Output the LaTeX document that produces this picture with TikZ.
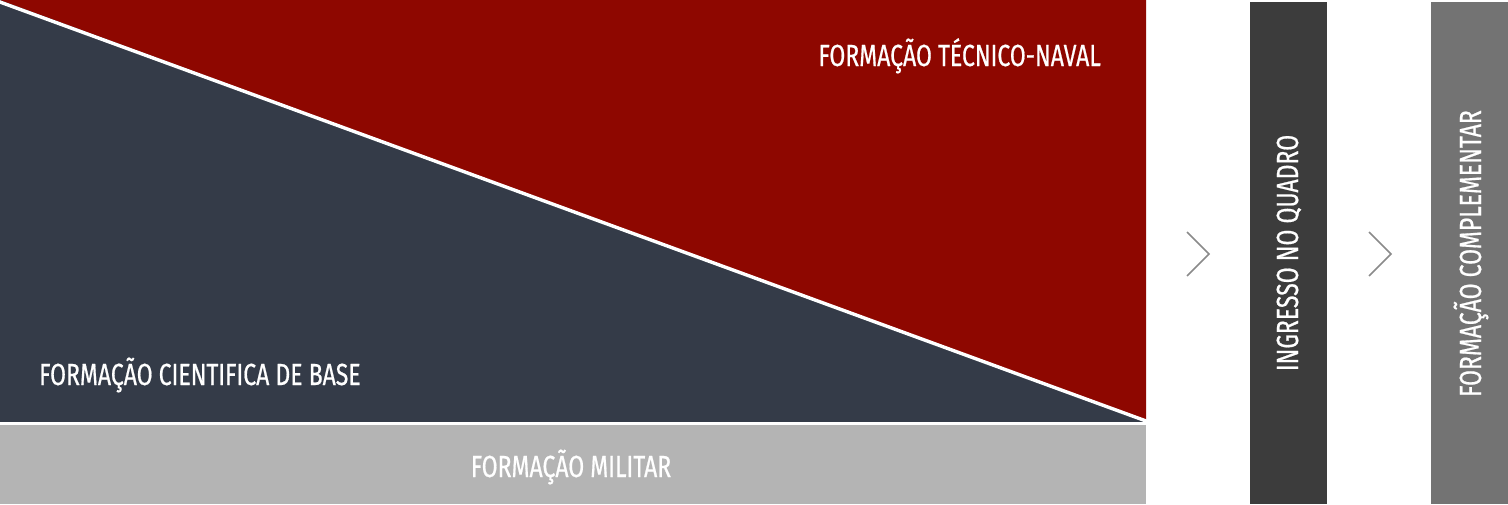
\documentclass[tikz,border=0pt]{standalone}
\usepackage{fontspec}
\setmainfont{Fira Sans}[FakeStretch=0.755,FakeBold=0.6]
\definecolor{navy}{HTML}{343B48}
\definecolor{navalred}{HTML}{8E0700}
\definecolor{lgray}{HTML}{B4B4B4}
\definecolor{dgray}{HTML}{3C3C3C}
\definecolor{mgray}{HTML}{737373}
\definecolor{chev}{HTML}{8A8A8A}
\begin{document}
\begin{tikzpicture}[x=1pt,y=-1pt,
  lbl/.style={text=white,font=\fontsize{30.5}{30.5}\selectfont,inner sep=0pt},
  chevron/.style={draw=chev,line width=1.5pt}]
\useasboundingbox (0,0) rectangle (1508,504);
\fill[navy] (0,0) rectangle (1146,422.3);
\fill[navalred] (0,0) -- (1146,0) -- (1146,421) -- cycle;
\draw[white,line width=3.4pt] (-2,1.3) -- (1148,421.7);
\fill[lgray] (0,425) rectangle (1146,504);
\fill[dgray] (1250,2) rectangle (1327,504);
\fill[mgray] (1431,2) rectangle (1508,504);
\node[lbl,anchor=base east] (naval) at (1101,66) {FORMAÇÃO TÉCNICO-NAVAL};
\node[lbl,anchor=base west] (base) at (39,385) {FORMAÇÃO CIENTIFICA DE BASE};
\node[lbl,anchor=base] (militar) at (571,477) {FORMAÇÃO MILITAR};
\node[lbl,anchor=base,rotate=90] (quadro) at (1298,253) {INGRESSO NO QUADRO};
\node[lbl,anchor=base,rotate=90] (compl) at (1481,253.5) {FORMAÇÃO COMPLEMENTAR};
\coordinate (c1a) at (1187,232);
\coordinate (c1b) at (1209,254);
\coordinate (c1c) at (1187,276);
\coordinate (c2a) at (1369,232);
\coordinate (c2b) at (1391,254);
\coordinate (c2c) at (1369,276);
\draw[chevron] (c1a) -- (c1b) -- (c1c);
\draw[chevron] (c2a) -- (c2b) -- (c2c);
\end{tikzpicture}
\end{document}
